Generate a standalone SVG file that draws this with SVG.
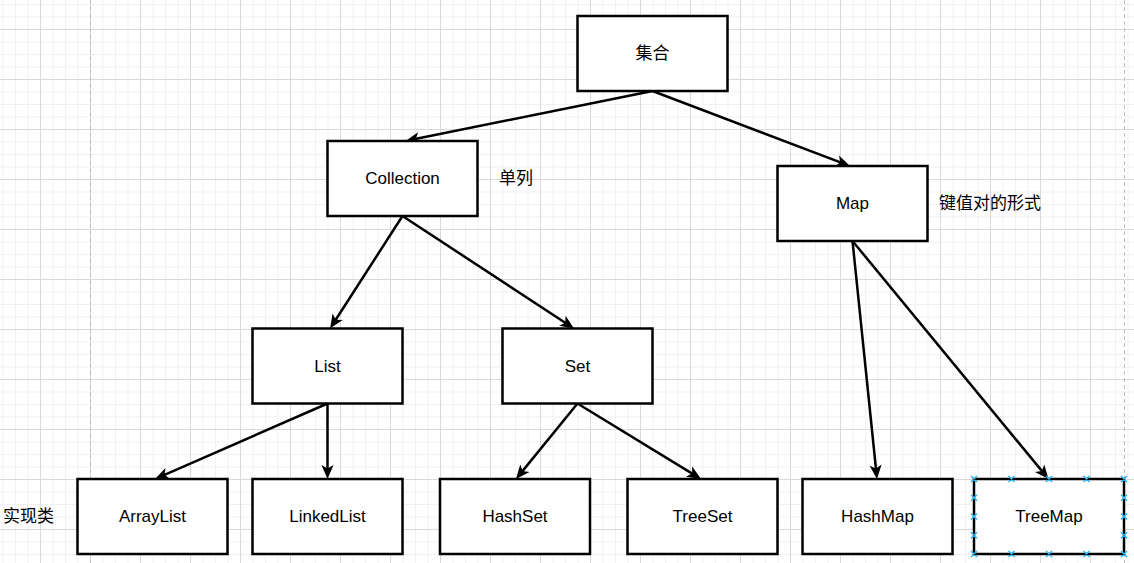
<svg xmlns="http://www.w3.org/2000/svg" width="1134" height="563" viewBox="0 0 1134 563">
  <style>
    .node rect { fill: #ffffff; stroke: #000000; stroke-width: 2.5; }
    .node text, .label { font-family: "Liberation Sans", "Noto Sans CJK SC", sans-serif; font-size: 17px; fill: #000000; dominant-baseline: central; }
    .node text { text-anchor: middle; }
    .label { text-anchor: start; }
    .edge { stroke: #000000; stroke-width: 2.5; fill: none; marker-end: url(#arrow); }
    .page { stroke: #bdbdbd; stroke-width: 1; stroke-dasharray: 4 3; }
    .handles { stroke: #29b6f2; stroke-width: 1.5; fill: none; }
  </style>
  <defs>
    <pattern id="grid" patternUnits="userSpaceOnUse" x="40" y="29" width="50" height="50">
      <path d="M13,0V50M25.5,0V50M38,0V50M0,13H50M0,25.5H50M0,38H50" stroke="#f1f1f1" stroke-width="1" fill="none"/>
      <path d="M0.5,0V50M0,0.5H50" stroke="#d9d9d9" stroke-width="1" fill="none"/>
    </pattern>
    <marker id="arrow" markerUnits="userSpaceOnUse" markerWidth="14" markerHeight="14" refX="8" refY="7" orient="auto" overflow="visible">
      <path d="M0,1 L14,7 L0,13 L3.5,7 Z" fill="#000000"/>
    </marker>
  </defs>

  <rect x="0" y="0" width="1134" height="563" fill="#ffffff"/>
  <rect x="0" y="0" width="1134" height="563" fill="url(#grid)"/>
  <line class="page" x1="90.5" y1="0" x2="90.5" y2="563"/>
  <line class="page" x1="1124.5" y1="0" x2="1124.5" y2="563"/>

  <g id="connectors">
    <path class="edge" d="M652.5,91 L411.4,139.8"/>
    <path class="edge" d="M652.5,91 L844.4,163.9"/>
    <path class="edge" d="M402.5,216 L333.3,323.5"/>
    <path class="edge" d="M402.5,216 L569,325.2"/>
    <path class="edge" d="M852.5,241 L876.4,473"/>
    <path class="edge" d="M852.5,241 L1044.7,474.4"/>
    <path class="edge" d="M327.5,403.5 L160.5,476.6"/>
    <path class="edge" d="M327.5,403.5 L327.5,473"/>
    <path class="edge" d="M577.5,403.5 L519.8,474.4"/>
    <path class="edge" d="M577.5,403.5 L695.9,475.9"/>
  </g>

  <g id="node-jihe" class="node">
    <rect x="577.5" y="16" width="150" height="75"/>
    <text x="652.5" y="53.5">集合</text>
  </g>
  <g id="node-collection" class="node">
    <rect x="327.5" y="141" width="150" height="75"/>
    <text x="402.5" y="178.5">Collection</text>
  </g>
  <g id="node-map" class="node">
    <rect x="777.5" y="166" width="150" height="75"/>
    <text x="852.5" y="203.5">Map</text>
  </g>
  <g id="node-list" class="node">
    <rect x="252.5" y="328.5" width="150" height="75"/>
    <text x="327.5" y="366">List</text>
  </g>
  <g id="node-set" class="node">
    <rect x="502.5" y="328.5" width="150" height="75"/>
    <text x="577.5" y="366">Set</text>
  </g>
  <g id="node-arraylist" class="node">
    <rect x="77.5" y="479" width="150" height="75"/>
    <text x="152.5" y="516.5">ArrayList</text>
  </g>
  <g id="node-linkedlist" class="node">
    <rect x="252.5" y="479" width="150" height="75"/>
    <text x="327.5" y="516.5">LinkedList</text>
  </g>
  <g id="node-hashset" class="node">
    <rect x="440" y="479" width="150" height="75"/>
    <text x="515" y="516.5">HashSet</text>
  </g>
  <g id="node-treeset" class="node">
    <rect x="627.5" y="479" width="150" height="75"/>
    <text x="702.5" y="516.5">TreeSet</text>
  </g>
  <g id="node-hashmap" class="node">
    <rect x="802.5" y="479" width="150" height="75"/>
    <text x="877.5" y="516.5">HashMap</text>
  </g>
  <g id="node-treemap" class="node">
    <rect x="974" y="479" width="150" height="75"/>
    <text x="1049" y="516.5">TreeMap</text>
    <path class="handles" d="M971,476l6,6m0,-6l-6,6 M1008.5,476l6,6m0,-6l-6,6 M1046,476l6,6m0,-6l-6,6 M1083.5,476l6,6m0,-6l-6,6 M1121,476l6,6m0,-6l-6,6 M971,551l6,6m0,-6l-6,6 M1008.5,551l6,6m0,-6l-6,6 M1046,551l6,6m0,-6l-6,6 M1083.5,551l6,6m0,-6l-6,6 M1121,551l6,6m0,-6l-6,6 M971,494.75l6,6m0,-6l-6,6 M971,513.5l6,6m0,-6l-6,6 M971,532.25l6,6m0,-6l-6,6 M1121,494.75l6,6m0,-6l-6,6 M1121,513.5l6,6m0,-6l-6,6 M1121,532.25l6,6m0,-6l-6,6"/>
  </g>

  <g id="labels">
    <text class="label" x="499" y="178.5">单列</text>
    <text class="label" x="939" y="203.5">键值对的形式</text>
    <text class="label" x="3" y="516.5">实现类</text>
  </g>
</svg>
